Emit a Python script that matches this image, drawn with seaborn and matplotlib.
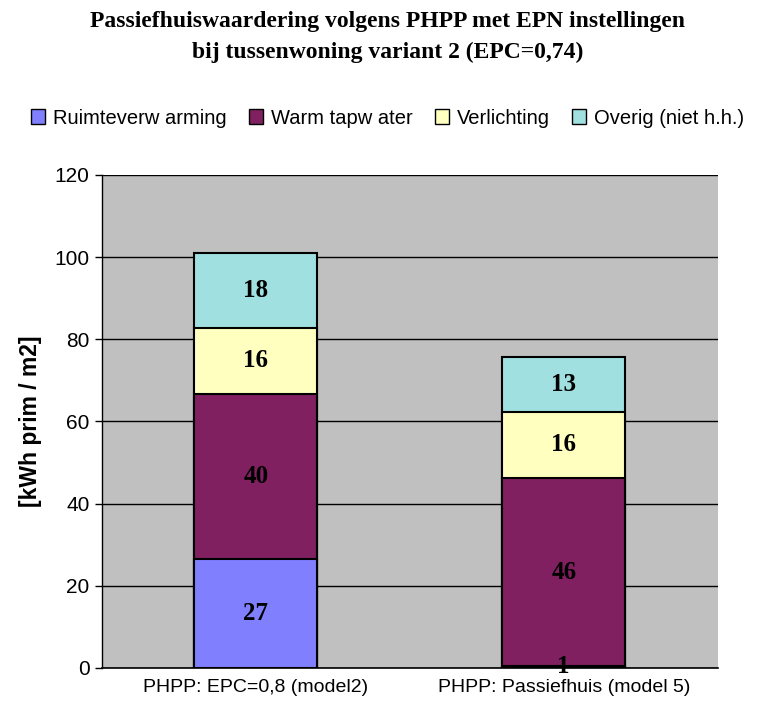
import matplotlib
matplotlib.use("Agg")
import matplotlib.pyplot as plt
import seaborn as sns
import numpy as np
import pandas as pd
from matplotlib.patches import Patch

categories = ["PHPP: EPC=0,8 (model2)", "PHPP: Passiefhuis (model 5)"]
series = ["Ruimteverw arming", "Warm tapw ater", "Verlichting", "Overig (niet h.h.)"]
ruimte = [26.6, 0.5]
warm = [40.2, 45.7]
verlichting = [16.0, 16.2]
overig = [18.2, 13.4]
labels = [[27, 40, 16, 18], [1, 46, 16, 13]]
colors = ["#8080FF", "#802060", "#FFFFC0", "#A0E0E0"]
yticks = [0, 20, 40, 60, 80, 100, 120]

sns.set_theme(style="white")
plt.rcParams['font.family'] = ['Liberation Sans', 'DejaVu Sans']
plt.rcParams['text.color'] = 'black'
plt.rcParams['axes.labelcolor'] = 'black'
plt.rcParams['xtick.color'] = 'black'
plt.rcParams['ytick.color'] = 'black'

fig = plt.figure(figsize=(7.75, 7.11), dpi=100)
ax = fig.add_axes([0.1316, 0.0605, 0.7944, 0.6935])
ax.set_facecolor("#C0C0C0")

values = [ruimte, warm, verlichting, overig]
cum = np.cumsum(np.array(values), axis=0)

# draw from top to bottom so lower layers overlay
for i in range(len(series) - 1, -1, -1):
    df = pd.DataFrame({"cat": categories, "val": cum[i]})
    sns.barplot(data=df, x="cat", y="val", color=colors[i], width=0.4,
                edgecolor="black", linewidth=1.5, ax=ax, saturation=1, zorder=3)

# labels
for j in range(len(categories)):
    for i in range(len(series)):
        bottom = cum[i - 1][j] if i > 0 else 0
        v = values[i][j]
        ax.text(j, bottom + v / 2, str(labels[j][i]), ha="center", va="center",
                fontsize=18, fontweight="bold", family="Liberation Serif", color="black", zorder=5)

ax.set_ylim(0, 120)
ax.set_xlim(-0.5, 1.5)
ax.set_yticks(yticks)
ax.set_yticklabels([str(t) for t in yticks], fontsize=15)
ax.tick_params(axis="y", length=5, width=1, color="black", direction="out", left=True, pad=4)
ax.tick_params(axis="x", length=0, labelsize=14, pad=8)
ax.yaxis.grid(True, color="black", linewidth=1, zorder=0)
ax.set_axisbelow(True)
ax.set_xlabel("")
ax.set_ylabel("[kWh prim / m2]", fontsize=16.5, fontweight="bold", labelpad=9)
for s in ["top", "right"]:
    ax.spines[s].set_visible(False)
ax.spines["left"].set_color("black")
ax.spines["bottom"].set_color("black")
ax.spines["left"].set_linewidth(1)
ax.spines["bottom"].set_linewidth(1.2)

fig.text(0.5, 0.985, "Passiefhuiswaardering volgens PHPP met EPN instellingen\nbij tussenwoning variant 2 (EPC=0,74)",
         ha="center", va="top", fontsize=17, fontweight="bold", family="Liberation Serif",
         linespacing=1.6, color="black")

handles = [Patch(facecolor=c, edgecolor="black", linewidth=1) for c in colors]
fig.legend(handles, series, loc="center", bbox_to_anchor=(0.5, 0.834), ncol=4, frameon=False,
           fontsize=14.5, handlelength=0.7, handleheight=0.7, handletextpad=0.4, columnspacing=1.1)

fig.savefig("out.png", dpi=100)
